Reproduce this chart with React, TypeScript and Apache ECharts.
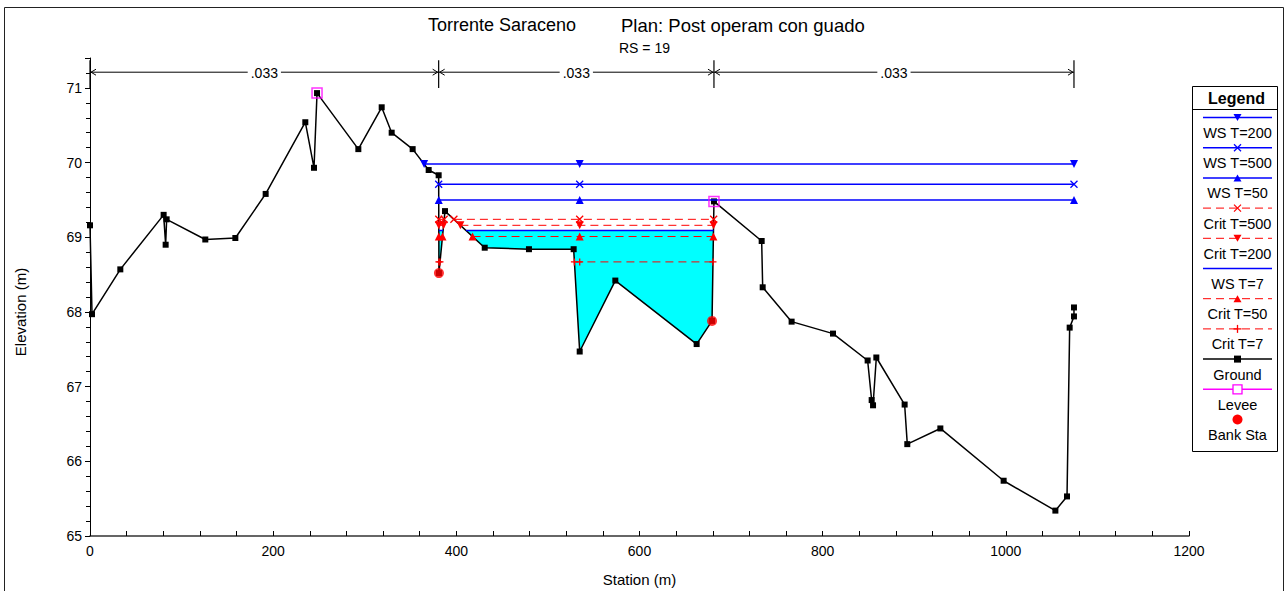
import React, { useEffect, useRef } from 'react';
import * as echarts from 'echarts';

const FONT = '"Liberation Sans", Arial, Helvetica, sans-serif';

// Ground profile (station m, elevation m)
const groundStation = [
  0, 2.2, 33.1, 80.4, 82.6, 83.7, 125.9, 158.7, 191.8, 235.1, 244.6, 247.9, 293.0, 318.5, 329.4,
  352.3, 369.8, 380.7, 381.0, 387.6, 431.0, 479.3, 528.1, 534.7, 573.6, 662.4, 679.2, 681.3,
  733.4, 734.5, 766.1, 811.3, 849.1, 853.5, 855.0, 858.6, 889.5, 892.4, 928.5, 997.6, 1054.1,
  1066.8, 1069.7, 1074.4, 1074.4,
];
const groundElev = [
  69.16, 67.97, 68.57, 69.3, 68.9, 69.24, 68.97, 68.99, 69.58, 70.54, 69.93, 70.93, 70.18, 70.74, 70.4,
  70.18, 69.9, 69.83, 68.52, 69.35, 68.86, 68.84, 68.84, 67.47, 68.42, 67.57, 67.88, 69.48,
  68.95, 68.33, 67.87, 67.71, 67.35, 66.82, 66.75, 67.39, 66.76, 66.23, 66.44, 65.74, 65.34,
  65.53, 67.79, 67.94, 68.06,
];

const leveeStation = [247.9, 681.3];
const leveeElev = [70.93, 69.48];
const bankStation = [381.0, 679.2];
const bankElev = [68.52, 67.88];

// Profiles in legend order
const profileNames = ['WS T=200', 'WS T=500', 'WS T=50', 'Crit T=500', 'Crit T=200', 'WS T=7', 'Crit T=50', 'Crit T=7'];
const profileElev = [69.98, 69.71, 69.5, 69.24, 69.16, 69.09, 69.01, 68.67];
const profileKind = ['ws', 'ws', 'ws', 'crit', 'crit', 'ws', 'crit', 'crit'];
const profileMarker = ['down', 'x', 'up', 'x', 'down', 'none', 'up', 'plus'];

// Manning's n regions
const manningStations = [0, 380.7, 681.3, 1074.4];
const manningN = ['.033', '.033', '.033'];

const titleRiver = 'Torrente Saraceno';
const titlePlan = 'Plan: Post operam con guado';
const titleRS = 'RS = 19';

const BLUE = '#0000ff';
const RED = '#ff0000';
const MAGENTA = '#ff00ff';
const CYAN = '#00ffff';

const SYM: Record<string, string> = {
  down: 'triangle',
  up: 'triangle',
  x: 'path://M0,0L10,10M10,0L0,10',
  plus: 'path://M5,0L5,10M0,5L10,5',
  none: 'none',
};

type P = [number, number];

function wetRegions(level: number): P[][] {
  const lo = leveeStation[0];
  const hi = level > leveeElev[1] ? groundStation[groundStation.length - 1] : leveeStation[1];
  const pts: P[] = [];
  for (let i = 0; i < groundStation.length; i++) {
    if (groundStation[i] >= lo && groundStation[i] <= hi) pts.push([groundStation[i], groundElev[i]]);
  }
  const polys: P[][] = [];
  let cur: P[] | null = null;
  for (let i = 0; i < pts.length; i++) {
    const [x, y] = pts[i];
    if (y < level) {
      if (!cur) {
        cur = [];
        if (i > 0) {
          const [px, py] = pts[i - 1];
          const t = (level - py) / (y - py);
          cur.push([px + t * (x - px), level]);
        } else cur.push([x, level]);
      }
      cur.push([x, y]);
      if (i < pts.length - 1) {
        const [nx, ny] = pts[i + 1];
        if (ny >= level) {
          const t = (level - y) / (ny - y);
          cur.push([x + t * (nx - x), level]);
          polys.push(cur);
          cur = null;
        }
      }
    }
  }
  if (cur) {
    const last = cur[cur.length - 1];
    cur.push([last[0], level]);
    polys.push(cur);
  }
  return polys;
}

// station of the lowest ground point between the bank stations
function thalwegStation(): number {
  let best = -1;
  let bestE = Infinity;
  for (let i = 0; i < groundStation.length; i++) {
    const s = groundStation[i];
    if (s > bankStation[0] && s < bankStation[1] && groundElev[i] < bestE) {
      bestE = groundElev[i];
      best = s;
    }
  }
  return best;
}

function buildOption() {
  const series: any[] = [];
  const thal = thalwegStation();

  // Water fill for WS T=7
  const wsIdx = profileNames.indexOf('WS T=7');
  const fillPolys = wetRegions(profileElev[wsIdx]);
  series.push({
    type: 'custom',
    z: 1,
    silent: true,
    data: fillPolys.map((p, i) => [p[0][0], profileElev[wsIdx], i]),
    encode: { x: 0, y: 1 },
    renderItem: (params: any, api: any) => {
      const poly = fillPolys[params.dataIndex];
      return {
        type: 'polygon',
        shape: { points: poly.map((p) => api.coord(p)) },
        style: { fill: CYAN, stroke: null },
      };
    },
  });

  // Ground
  series.push({
    type: 'line',
    name: 'Ground',
    z: 3,
    data: groundStation.map((s, i) => [s, groundElev[i]]),
    symbol: 'rect',
    symbolSize: 6,
    showAllSymbol: true,
    lineStyle: { color: '#000', width: 1.5 },
    itemStyle: { color: '#000' },
  });

  // Profiles
  profileNames.forEach((name, k) => {
    const lvl = profileElev[k];
    const isWS = profileKind[k] === 'ws';
    const color = isWS ? BLUE : RED;
    const m = profileMarker[k];
    const pathSym = m === 'x' || m === 'plus';
    wetRegions(lvl).forEach((poly) => {
      const xa = poly[0][0];
      const xb = poly[poly.length - 1][0];
      const d: P[] = [[xa, lvl]];
      if (thal > xa && thal < xb) d.push([thal, lvl]);
      d.push([xb, lvl]);
      series.push({
        type: 'line',
        name,
        z: 4,
        data: d,
        symbol: SYM[m],
        symbolRotate: m === 'down' ? 180 : 0,
        symbolSize: pathSym ? 7 : 8,
        showAllSymbol: true,
        lineStyle: { color, width: isWS ? 1.5 : 1, type: isWS ? 'solid' : [8, 5] },
        itemStyle: pathSym
          ? { color: 'rgba(0,0,0,0)', borderColor: color, borderWidth: 1.3 }
          : { color },
      });
    });
  });

  // Levee
  series.push({
    type: 'scatter',
    name: 'Levee',
    z: 5,
    data: leveeStation.map((s, i) => [s, leveeElev[i]]),
    symbol: 'rect',
    symbolSize: 10,
    itemStyle: { color: 'rgba(0,0,0,0)', borderColor: MAGENTA, borderWidth: 1.5 },
  });

  // Bank stations
  series.push({
    type: 'scatter',
    name: 'Bank Sta',
    z: 6,
    data: bankStation.map((s, i) => [s, bankElev[i]]),
    symbol: 'circle',
    symbolSize: 10,
    itemStyle: { color: RED },
  });

  // Manning's n arrows
  const arrowElev = 71.21;
  series.push({
    type: 'custom',
    z: 7,
    silent: true,
    clip: false,
    data: manningN.map((n, i) => [manningStations[i], manningStations[i + 1], i]),
    encode: { x: [0, 1] },
    renderItem: (params: any, api: any) => {
      const i = params.dataIndex;
      const s0 = manningStations[i];
      const s1 = manningStations[i + 1];
      const a = api.coord([s0, arrowElev]);
      const b = api.coord([s1, arrowElev]);
      const y = a[1];
      const vTop = api.coord([s0, 71.37])[1];
      const vBot = api.coord([s0, 71.0])[1];
      const children: any[] = [
        { type: 'line', shape: { x1: a[0], y1: y, x2: b[0], y2: y }, style: { stroke: '#000', lineWidth: 1 } },
        { type: 'polyline', shape: { points: [[a[0] + 6, y - 3], [a[0] + 1, y], [a[0] + 6, y + 3]] }, style: { stroke: '#000', lineWidth: 1, fill: null } },
        { type: 'polyline', shape: { points: [[b[0] - 6, y - 3], [b[0] - 1, y], [b[0] - 6, y + 3]] }, style: { stroke: '#000', lineWidth: 1, fill: null } },
        { type: 'line', shape: { x1: a[0], y1: vTop, x2: a[0], y2: vBot }, style: { stroke: '#000', lineWidth: 1.2 } },
        {
          type: 'text',
          style: {
            text: manningN[i],
            x: (a[0] + b[0]) / 2,
            y: y + 1,
            align: 'center',
            verticalAlign: 'middle',
            fill: '#000',
            font: `14px ${FONT}`,
            backgroundColor: '#fff',
            padding: [0, 3],
          },
        },
      ];
      if (i === manningN.length - 1) {
        children.push({ type: 'line', shape: { x1: b[0], y1: vTop, x2: b[0], y2: vBot }, style: { stroke: '#000', lineWidth: 1.2 } });
      }
      return { type: 'group', children };
    },
  });

  // Graphic: frame, titles, axis name, legend
  const graphic: any[] = [];
  graphic.push({ type: 'rect', shape: { x: 4.5, y: 7.5, width: 1279, height: 700 }, style: { fill: null, stroke: '#222', lineWidth: 1 }, silent: true, z: 0 });
  graphic.push({ type: 'text', x: 428, y: 25, style: { text: titleRiver, font: `18px ${FONT}`, fill: '#000', verticalAlign: 'middle' } });
  graphic.push({ type: 'text', x: 621, y: 25, style: { text: titlePlan, font: `18.5px ${FONT}`, fill: '#000', verticalAlign: 'middle' } });
  graphic.push({ type: 'text', x: 619, y: 48, style: { text: titleRS, font: `14px ${FONT}`, fill: '#000', verticalAlign: 'middle' } });
  graphic.push({ type: 'text', x: 20, y: 312, rotation: Math.PI / 2, style: { text: 'Elevation (m)', font: `15px ${FONT}`, fill: '#000', align: 'center', verticalAlign: 'middle' } });

  // Legend
  const bx = 1192.5, by = 86.5, bw = 85, bh = 365;
  const cx = 1237.5;
  graphic.push({ type: 'rect', shape: { x: bx, y: by, width: bw, height: bh }, style: { fill: '#fff', stroke: '#000', lineWidth: 1 }, z: 10 });
  graphic.push({ type: 'text', x: cx - 1, y: 98.5, z: 11, style: { text: 'Legend', font: `bold 16px ${FONT}`, fill: '#000', align: 'center', verticalAlign: 'middle' } });
  graphic.push({ type: 'line', z: 11, shape: { x1: bx, y1: 109.5, x2: bx + bw, y2: 109.5 }, style: { stroke: '#000', lineWidth: 1 } });

  const legendItems: { name: string; color: string; dash: boolean; marker: string; line: boolean }[] = [];
  profileNames.forEach((n, k) => {
    legendItems.push({ name: n, color: profileKind[k] === 'ws' ? BLUE : RED, dash: profileKind[k] !== 'ws', marker: profileMarker[k], line: true });
  });
  legendItems.push({ name: 'Ground', color: '#000', dash: false, marker: 'square', line: true });
  legendItems.push({ name: 'Levee', color: MAGENTA, dash: false, marker: 'hollow', line: true });
  legendItems.push({ name: 'Bank Sta', color: RED, dash: false, marker: 'circle', line: false });

  legendItems.forEach((it, i) => {
    const ly = 117.5 + i * 30.2;
    const ty = ly + 15.5;
    const x1 = 1203, x2 = 1272;
    if (it.line) {
      graphic.push({ type: 'line', z: 11, shape: { x1, y1: ly, x2, y2: ly }, style: { stroke: it.color, lineWidth: it.dash ? 1 : 1.5, lineDash: it.dash ? [8, 5] : null } });
    }
    const c = it.color;
    switch (it.marker) {
      case 'down':
        graphic.push({ type: 'polygon', z: 12, shape: { points: [[cx - 4, ly - 3.5], [cx + 4, ly - 3.5], [cx, ly + 3.5]] }, style: { fill: c } });
        break;
      case 'up':
        graphic.push({ type: 'polygon', z: 12, shape: { points: [[cx - 4, ly + 3.5], [cx + 4, ly + 3.5], [cx, ly - 3.5]] }, style: { fill: c } });
        break;
      case 'x':
        graphic.push({ type: 'line', z: 12, shape: { x1: cx - 3.5, y1: ly - 3.5, x2: cx + 3.5, y2: ly + 3.5 }, style: { stroke: c, lineWidth: 1.3 } });
        graphic.push({ type: 'line', z: 12, shape: { x1: cx + 3.5, y1: ly - 3.5, x2: cx - 3.5, y2: ly + 3.5 }, style: { stroke: c, lineWidth: 1.3 } });
        break;
      case 'plus':
        graphic.push({ type: 'line', z: 12, shape: { x1: cx, y1: ly - 4, x2: cx, y2: ly + 4 }, style: { stroke: c, lineWidth: 1.3 } });
        graphic.push({ type: 'line', z: 12, shape: { x1: cx - 4, y1: ly, x2: cx + 4, y2: ly }, style: { stroke: c, lineWidth: 1.3 } });
        break;
      case 'square':
        graphic.push({ type: 'rect', z: 12, shape: { x: cx - 3.5, y: ly - 3.5, width: 7, height: 7 }, style: { fill: '#000' } });
        break;
      case 'hollow':
        graphic.push({ type: 'rect', z: 12, shape: { x: cx - 4.5, y: ly - 4.5, width: 9, height: 9 }, style: { fill: '#fff', stroke: c, lineWidth: 1.3 } });
        break;
      case 'circle':
        graphic.push({ type: 'circle', z: 12, shape: { cx, cy: ly, r: 5 }, style: { fill: c } });
        break;
    }
    graphic.push({ type: 'text', x: cx, y: ty, z: 12, style: { text: it.name, font: `14.5px ${FONT}`, fill: '#000', align: 'center', verticalAlign: 'middle' } });
  });

  return {
    animation: false,
    backgroundColor: '#fff',
    textStyle: { fontFamily: FONT },
    grid: { left: 90, right: 97, top: 58, bottom: 55, containLabel: false, outerBoundsMode: 'none' },
    xAxis: {
      type: 'value',
      min: 0,
      max: 1200,
      interval: 200,
      name: 'Station (m)',
      nameLocation: 'middle',
      nameGap: 36,
      nameTextStyle: { fontSize: 15, color: '#000', fontFamily: FONT },
      axisLine: { show: true, onZero: false, lineStyle: { color: '#333', width: 1.5 } },
      axisTick: { show: true, inside: true, length: 5, lineStyle: { color: '#000' } },
      minorTick: { show: true, splitNumber: 5, length: 5, lineStyle: { color: '#000' } },
      axisLabel: { fontSize: 14, color: '#000', margin: 8, fontFamily: FONT, formatter: (v: number) => String(v) },
      splitLine: { show: false },
    },
    yAxis: {
      type: 'value',
      min: 65,
      max: 71.4,
      interval: 1,
      axisLine: { show: true, onZero: false, lineStyle: { color: '#000', width: 1 } },
      axisTick: { show: true, length: 5, lineStyle: { color: '#000' } },
      minorTick: { show: true, splitNumber: 5, length: 4, lineStyle: { color: '#000' } },
      axisLabel: { fontSize: 14, color: '#000', margin: 8, showMaxLabel: false, fontFamily: FONT, formatter: (v: number) => String(v) },
      splitLine: { show: false },
    },
    series,
    graphic,
  };
}

export default function App() {
  const ref = useRef<HTMLDivElement>(null);
  useEffect(() => {
    document.body.style.margin = '0';
    if (!ref.current) return;
    const chart = echarts.init(ref.current, undefined, { renderer: 'svg' });
    chart.setOption(buildOption() as any);
    return () => chart.dispose();
  }, []);
  return <div ref={ref} style={{ width: 1286, height: 591 }} />;
}
